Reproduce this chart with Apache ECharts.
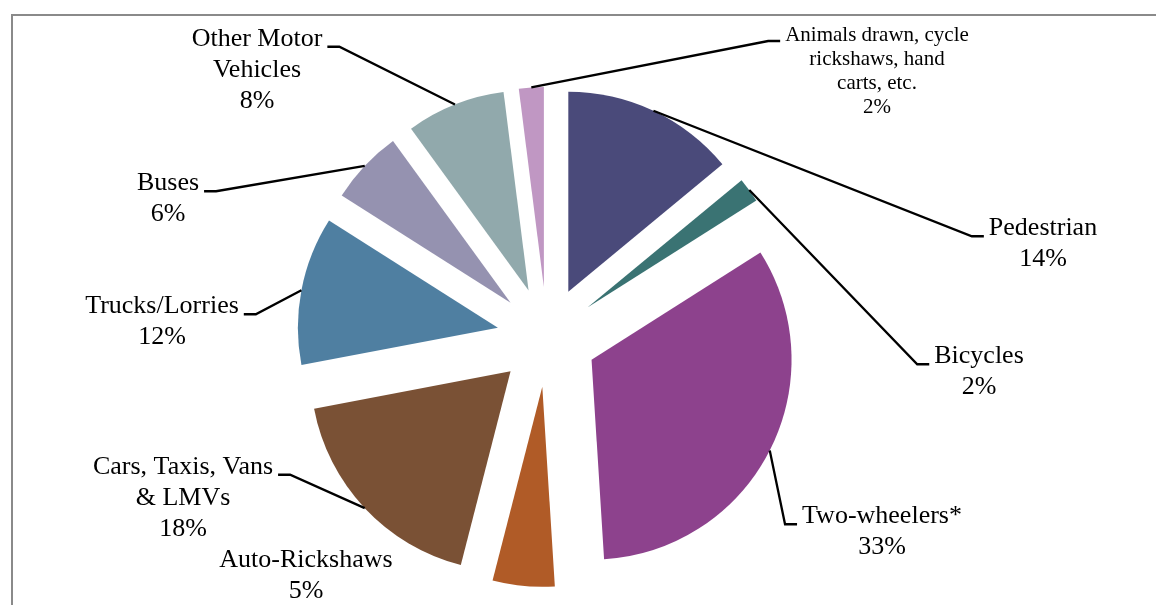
<!DOCTYPE html>
<html><head><meta charset="utf-8">
<script src="https://cdn.jsdelivr.net/npm/echarts@6/dist/echarts.min.js"></script>
<style>html,body{margin:0;padding:0;background:#fff}#c{width:1156px;height:605px}</style>
</head><body><div id="c"></div>
<script>
// ---- data ----
const categories = ['Pedestrian', 'Bicycles', 'Two-wheelers*', 'Auto-Rickshaws', 'Cars, Taxis, Vans\n& LMVs', 'Trucks/Lorries', 'Buses', 'Other Motor\nVehicles', 'Animals drawn, cycle\nrickshaws, hand\ncarts, etc.'];
const shares = [14, 2, 33, 5, 18, 12, 6, 8, 2];

// ---- styles / layout (not data) ----
const colors = ['#4A4A7A', '#3A7373', '#8D428D', '#B05B27', '#7A5135', '#4F7FA1', '#9592B0', '#91A9AC', '#C097C3'];
// label block centres [x, y]
const labelPos = [[1043, 244], [979, 372], [882, 532], [306, 576], [183, 498], [162, 322], [168, 199], [257, 70], [877, 71]];
const CENTER = [547, 337];
const RADIUS = 200;
const EXPLODE = 50;
const FONT = '"Liberation Serif", "Times New Roman", serif';

const chart = echarts.init(document.getElementById('c'), null, { renderer: 'canvas' });

// exploded visible slices
const sliceData = categories.map((name, i) => ({
  name: name, value: shares[i], selected: true,
  itemStyle: { color: colors[i] }
}));
// invisible twin pie (outer radius = exploded arc) that carries labels & leader lines
const labelData = categories.map((name, i) => ({
  name: name, value: shares[i],
  itemStyle: { color: 'rgba(0,0,0,0)' },
  label: i === 8 ? { fontSize: 21, lineHeight: 24 } : {},
  labelLine: i === 3 ? { show: false } : {}
}));

chart.setOption({
  animation: false,
  backgroundColor: '#fff',
  graphic: [{
    type: 'rect', z: 0, silent: true,
    shape: { x: 12, y: 15, width: 1300, height: 800 },
    style: { fill: 'none', stroke: '#8a8a8a', lineWidth: 2 }
  }],
  series: [{
    type: 'pie',
    center: CENTER,
    radius: RADIUS,
    startAngle: 90,
    clockwise: true,
    selectedMode: 'multiple',
    selectedOffset: EXPLODE,
    silent: true,
    emphasis: { disabled: true },
    label: { show: false },
    labelLine: { show: false },
    data: sliceData
  }, {
    type: 'pie',
    center: CENTER,
    radius: RADIUS + EXPLODE,
    startAngle: 90,
    clockwise: true,
    silent: true,
    z: 3,
    avoidLabelOverlap: false,
    emphasis: { disabled: true },
    data: labelData,
    label: {
      show: true,
      position: 'outside',
      formatter: p => p.name + '\n' + p.value + '%',
      fontFamily: FONT,
      fontSize: 26,
      lineHeight: 31,
      color: '#000',
      align: 'center'
    },
    labelLine: {
      show: true,
      length: 10,
      length2: 12,
      smooth: false,
      lineStyle: { color: '#000', width: 2.3 }
    },
    labelLayout: function (params) {
      const p = labelPos[params.dataIndex];
      const w = params.labelRect.width, h = params.labelRect.height;
      const lh = params.dataIndex === 8 ? 24 : 31;
      const start = params.labelLinePoints ? params.labelLinePoints[0] : [p[0], p[1]];
      const yA = p[1] - h / 2 + lh * 0.75;
      const onRight = start[0] < p[0];
      const xe = onRight ? p[0] - w / 2 - 5 : p[0] + w / 2 + 5;
      const xm = onRight ? xe - 12 : xe + 12;
      return {
        x: p[0], y: p[1], align: 'center', verticalAlign: 'middle',
        labelLinePoints: [start, [xm, yA], [xe, yA]]
      };
    }
  }]
});
</script>
</body></html>
